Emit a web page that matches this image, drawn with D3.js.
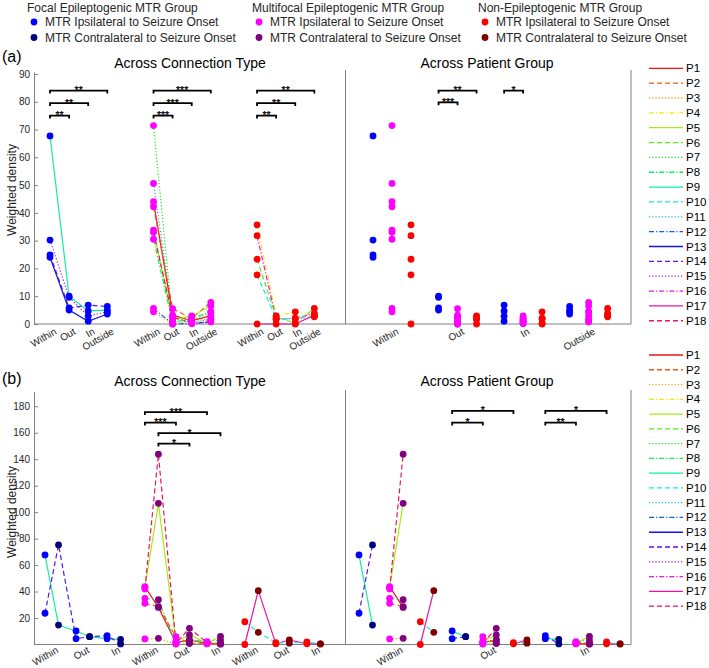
<!DOCTYPE html>
<html><head><meta charset="utf-8">
<script src="https://cdn.jsdelivr.net/npm/d3@7"></script>
<style>body{margin:0;background:#fff}text{font-family:Arial,"Liberation Sans",Helvetica,sans-serif}.star{opacity:0.995}</style>
</head><body><svg id="c" width="709" height="668"></svg>
<script>
// ---------- DATA ----------
const patients = d3.range(1, 19).map(i => "P" + i);
const connA = ["Within", "Out", "In", "Outside"];
const connB = ["Within", "Out", "In"];
const groupNames = ["Focal Epileptogenic MTR Group", "Multifocal Epileptogenic MTR Group", "Non-Epileptogenic MTR Group"];
const sideNames = ["MTR Ipsilateral to Seizure Onset", "MTR Contralateral to Seizure Onset"];
const titles = ["Across Connection Type", "Across Patient Group"];
const yTicksA = [0, 10, 20, 30, 40, 50, 60, 70, 80, 90];
const yTicksB = [20, 40, 60, 80, 100, 120, 140, 160, 180];

// Panel (a): values per patient [Within, Out, In, Outside]
const aFocalIds = ["P9", "P14", "P15", "P13"];
const aFocalVals = [[67.7, 10.0, 4.7, 5.0], [24.9, 5.8, 6.8, 6.3], [30.2, 9.6, 2.8, 4.4], [24.0, 5.0, 1.0, 3.6]];
const aMultiIds = ["P7", "P11", "P1", "P2", "P5", "P18", "P8", "P12", "P3"];
const aMultiVals = [[71.4, 1.0, 1.2, 4.4], [50.6, 2.3, 0.5, 1.7], [44.0, 3.2, 1.1, 3.0], [42.2, 5.5, 2.0, 7.8],
  [33.8, 1.4, 2.9, 6.5], [33.0, 2.6, 0.2, 0.8], [30.5, 0.5, 2.0, 4.4], [5.6, 0.0, 0.2, 0.8], [4.4, 0.0, 1.1, 1.7]];
const aNonIds = ["P4", "P16", "P6", "P10", "P17"];
const aNonVals = [[35.7, 2.9, 4.4, 3.0], [31.8, 1.7, 2.0, 3.8], [23.3, 2.5, 0.3, 5.6], [17.7, 1.9, 2.0, 2.6], [0.0, 0.0, 0.0, 3.2]];

// Panel (b): [Within, Out, In] ipsilateral / contralateral
const bFocalIds = ["P9", "P14"];
const bFocalIpsi = [[67.7, 10.2, 4.4], [23.6, 4.4, 6.7]];
const bFocalContra = [[14.7, 5.9, 3.9], [75.2, 5.9, 0.4]];
const bMultiIds = ["P1", "P5", "P18", "P8", "P2", "P3"];
const bMultiIpsi = [[43.7, 1.5, 0.8], [43.2, 2.5, 1.0], [42.0, 1.0, 1.5], [34.9, 0.5, 2.1], [31.1, 5.9, 0.5], [4.2, 0.3, 0.5]];
const bMultiContra = [[28.0, 3.4, 0.4], [106.7, 7.2, 6.2], [143.8, 12.2, 0.8], [33.8, 3.4, 3.4], [28.6, 0.9, 0.4], [4.7, 0.9, 0.4]];
const bNonIds = ["P17", "P10"];
const bNonIpsi = [[0.0, 0.5, 0.5], [17.2, 1.4, 1.9]];
const bNonContra = [[40.7, 3.4, 0.4], [9.2, 1.0, 0.4]];

// significance brackets
const sigALeft = [[0, 0, 1, 75, "**"], [0, 0, 2, 79.5, "**"], [0, 0, 3, 84, "**"],
  [1, 0, 1, 75, "***"], [1, 0, 2, 79.5, "***"], [1, 0, 3, 84, "***"],
  [2, 0, 1, 75, "**"], [2, 0, 2, 79.5, "**"], [2, 0, 3, 84, "**"]]; // group, conn1, conn2, level, label
const sigARight = [[1, 0, 2, 84, "**"], [1, 0, 1, 79.8, "***"], [2, 0, 1, 84, "*"]]; // conn, grp1, grp2
const sigBLeft = [[1, 0, 0, 2, 0, 175.6, "***"], [1, 0, 0, 1, 0, 167.7, "***"], [1, 0, 1, 2, 1, 159.7, "*"], [1, 0, 1, 1, 1, 151.8, "*"]];
const sigBRight = [[1, 0, 0, 2, 0, 176.5, "*"], [1, 0, 0, 1, 0, 167.7, "*"], [2, 0, 0, 2, 0, 176.5, "*"], [2, 0, 0, 1, 0, 167.7, "**"]];

// ---------- STYLE ----------
const groupColors = [["#0000ff", "#000080"], ["#ff00ff", "#800080"], ["#ff0000", "#800000"]];
const dashes = [null, "5,3", "1.2,2", "5,2,1.2,2"];
const pIdx = id => +id.slice(1) - 1;
const pColor = id => d3.hsl(pIdx(id) * 20, 0.85, 0.5).toString();
const pDash = id => dashes[pIdx(id) % 4];
const axisGray = "#808080", txt = "#262626";
const R = 3.4;

const svg = d3.select("#c");

// top legend
const legX = [27, 252, 478];
groupNames.forEach((g, gi) => {
  svg.append("text").attr("x", legX[gi]).attr("y", 12).attr("font-size", 12).attr("fill", txt).text(g);
  sideNames.forEach((s, si) => {
    const cy = 22 + si * 15.5;
    svg.append("circle").attr("cx", legX[gi] + 7).attr("cy", cy).attr("r", R).attr("fill", groupColors[gi][si]);
    svg.append("text").attr("x", legX[gi] + 18).attr("y", cy + 4).attr("font-size", 12).attr("fill", txt).text(s);
  });
});

function bracket(x1, x2, y, label) {
  const g = svg.append("g");
  g.append("path").attr("d", `M${x1},${y + 3}V${y}H${x2}V${y + 3}`).attr("fill", "none").attr("stroke", "#000").attr("stroke-width", 1.8);
  g.append("text").attr("class", "star").attr("x", (x1 + x2) / 2).attr("y", y + 3.5).attr("text-anchor", "middle")
    .attr("font-size", 10.5).attr("fill", "#000").attr("stroke", "#000").attr("stroke-width", 0.25).text(label);
}

function panelFrame(y, top, bottom, ticks, labelY, titleY, panelLetter, letterY) {
  svg.append("g").attr("transform", "translate(34,0)")
    .call(d3.axisLeft(y).tickValues(ticks).tickSize(-4).tickSizeOuter(0).tickPadding(4))
    .call(g => { g.select(".domain").attr("stroke", axisGray); g.selectAll("line").attr("stroke", axisGray);
      g.selectAll("text").attr("font-size", 10).attr("fill", txt).attr("font-family", "Arial, 'Liberation Sans', sans-serif"); });
  svg.append("line").attr("x1", 34).attr("x2", 631).attr("y1", bottom).attr("y2", bottom).attr("stroke", axisGray);
  svg.append("line").attr("x1", 345.5).attr("x2", 345.5).attr("y1", top - 2).attr("y2", bottom).attr("stroke", axisGray);
  svg.append("line").attr("x1", 631).attr("x2", 631).attr("y1", top - 2).attr("y2", bottom).attr("stroke", axisGray);
  svg.append("text").attr("transform", `translate(16,${labelY}) rotate(-90)`).attr("text-anchor", "middle").attr("font-size", 12).attr("fill", txt).text("Weighted density");
  svg.append("text").attr("x", 190).attr("y", titleY).attr("text-anchor", "middle").attr("font-size", 14).attr("fill", "#000").text(titles[0]);
  svg.append("text").attr("x", 487).attr("y", titleY).attr("text-anchor", "middle").attr("font-size", 14).attr("fill", "#000").text(titles[1]);
  svg.append("text").attr("x", 2).attr("y", letterY).attr("font-size", 16).attr("fill", "#000").text(panelLetter);
}

function xLabels(scale, vals, labs, bottom, dy) {
  svg.append("g").attr("transform", `translate(0,${bottom})`)
    .call(d3.axisBottom(scale).tickValues(vals).tickFormat((d, i) => labs[i]).tickSize(0))
    .call(g => { g.select(".domain").remove();
      g.selectAll("text").attr("font-size", 10).attr("fill", txt).attr("font-family", "Arial, 'Liberation Sans', sans-serif")
        .attr("text-anchor", "end").attr("x", 0).attr("y", 0).attr("dy", "0.75em").attr("transform", `translate(3,${dy}) rotate(-30)`); });
}

function legendRight(y0, step) {
  patients.forEach((p, i) => {
    const y = y0 + i * step;
    svg.append("line").attr("x1", 649).attr("x2", 683).attr("y1", y).attr("y2", y).attr("stroke", pColor(p)).attr("stroke-width", 1.3).attr("stroke-dasharray", pDash(p));
    svg.append("text").attr("x", 686).attr("y", y + 4).attr("font-size", 11.5).attr("fill", "#000").text(p);
  });
}

// ---------- PANEL (a) ----------
const yA = d3.scaleLinear().domain([0, 90.7]).range([324, 72]);
const xAL = d3.scaleLinear().domain([0, 1]).range([50, 69.1]);
const xAR = d3.scaleLinear().domain([0, 1]).range([373, 392]);
const posAL = (g, c) => g * 5.42 + c;
const posAR = (c, g) => c * 3.45 + g;
const aGroups = [[aFocalIds, aFocalVals], [aMultiIds, aMultiVals], [aNonIds, aNonVals]];

panelFrame(yA, 72, 324, yTicksA, 190, 68, "(a)", 62);
xLabels(xAL, d3.range(3).flatMap(g => connA.map((c, ci) => posAL(g, ci))), d3.range(3).flatMap(() => connA), 324, 3);
xLabels(xAR, connA.map((c, ci) => posAR(ci, 1)), connA, 324, 3);

const lineA = d3.line();
aGroups.forEach(([ids, vals], g) => {
  ids.forEach((id, k) => {
    svg.append("path").attr("d", lineA(vals[k].map((v, c) => [xAL(posAL(g, c)), yA(v)])))
      .attr("fill", "none").attr("stroke", pColor(id)).attr("stroke-width", 1.2).attr("stroke-dasharray", pDash(id));
  });
});
aGroups.forEach(([ids, vals], g) => {
  vals.forEach(row => row.forEach((v, c) => {
    svg.append("circle").attr("cx", xAL(posAL(g, c))).attr("cy", yA(v)).attr("r", R).attr("fill", groupColors[g][0]);
    svg.append("circle").attr("cx", xAR(posAR(c, g))).attr("cy", yA(v)).attr("r", R).attr("fill", groupColors[g][0]);
  }));
});
sigALeft.forEach(([g, c1, c2, lv, lab]) => bracket(xAL(posAL(g, c1)), xAL(posAL(g, c2)), yA(lv), lab));
sigARight.forEach(([c, g1, g2, lv, lab]) => bracket(xAR(posAR(c, g1)), xAR(posAR(c, g2)), yA(lv), lab));
legendRight(68.3, 14.85);

// ---------- PANEL (b) ----------
const yB = d3.scaleLinear().domain([0, 191]).range([644.5, 391.7]);
const xBL = d3.scaleLinear().domain([0, 1]).range([45, 58.5]);
const xBR = d3.scaleLinear().domain([0, 1]).range([359, 372.5]);
const posBL = (g, c, s) => g * 7.4 + c * 2.3 + s;
const posBR = (c, g, s) => c * 6.9 + g * 2.27 + s;
const bGroups = [[bFocalIds, bFocalIpsi, bFocalContra], [bMultiIds, bMultiIpsi, bMultiContra], [bNonIds, bNonIpsi, bNonContra]];

panelFrame(yB, 392, 644.5, yTicksB, 512, 386, "(b)", 384);
xLabels(xBL, d3.range(3).flatMap(g => connB.map((c, ci) => posBL(g, ci, 0.5))), d3.range(3).flatMap(() => connB), 644.5, 1);
xLabels(xBR, connB.map((c, ci) => posBR(ci, 1, 0.5)), connB, 644.5, 1);

bGroups.forEach(([ids, ipsi, contra], g) => {
  ids.forEach((id, k) => {
    const pts = connB.flatMap((c, ci) => [[xBL(posBL(g, ci, 0)), yB(ipsi[k][ci])], [xBL(posBL(g, ci, 1)), yB(contra[k][ci])]]);
    svg.append("path").attr("d", lineA(pts)).attr("fill", "none").attr("stroke", pColor(id)).attr("stroke-width", 1.2).attr("stroke-dasharray", pDash(id));
    connB.forEach((c, ci) => {
      svg.append("path").attr("d", lineA([[xBR(posBR(ci, g, 0)), yB(ipsi[k][ci])], [xBR(posBR(ci, g, 1)), yB(contra[k][ci])]]))
        .attr("fill", "none").attr("stroke", pColor(id)).attr("stroke-width", 1.2).attr("stroke-dasharray", pDash(id));
    });
  });
});
bGroups.forEach(([ids, ipsi, contra], g) => {
  ids.forEach((id, k) => connB.forEach((c, ci) => {
    [[ipsi, 0], [contra, 1]].forEach(([arr, s]) => {
      svg.append("circle").attr("cx", xBL(posBL(g, ci, s))).attr("cy", yB(arr[k][ci])).attr("r", R).attr("fill", groupColors[g][s]);
      svg.append("circle").attr("cx", xBR(posBR(ci, g, s))).attr("cy", yB(arr[k][ci])).attr("r", R).attr("fill", groupColors[g][s]);
    });
  }));
});
sigBLeft.forEach(([g, c1, s1, c2, s2, lv, lab]) => bracket(xBL(posBL(g, c1, s1)), xBL(posBL(g, c2, s2)), yB(lv), lab));
sigBRight.forEach(([c, g1, s1, g2, s2, lv, lab]) => bracket(xBR(posBR(c, g1, s1)), xBR(posBR(c, g2, s2)), yB(lv), lab));
legendRight(355, 14.77);
</script></body></html>
